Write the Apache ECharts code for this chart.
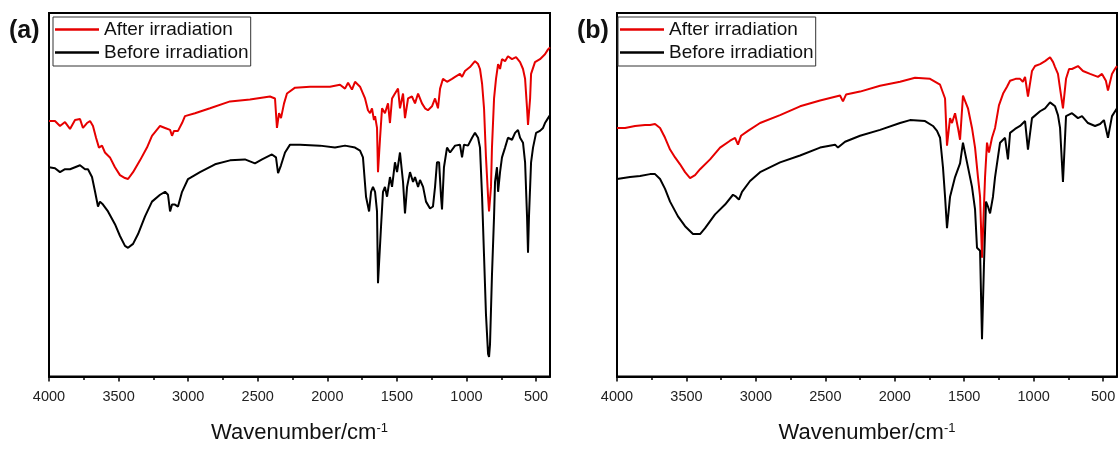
<!DOCTYPE html>
<html>
<head>
<meta charset="utf-8">
<script src="https://cdn.jsdelivr.net/npm/echarts@6/dist/echarts.min.js"></script>
<style>html,body{margin:0;padding:0;background:#fff}#c{width:1120px;height:449px}</style>
</head>
<body>
<div id="c"></div>
<script>
// ---- data (wavenumber in cm-1, transmittance in arbitrary units) ----
const seriesNames = ['After irradiation', 'Before irradiation'];
const tickValues = [500, 1000, 1500, 2000, 2500, 3000, 3500, 4000];
const minorTickValues = [750, 1250, 1750, 2250, 2750, 3250, 3750];

const aAfterWn = [4000,3957,3921,3885,3849,3813,3777,3756,3727,3705,3684,3662,3641,3619,3598,3562,3526,3490,3454,3432,3396,3346,3296,3260,3202,3166,3130,3116,3102,3073,3044,3023,2951,2843,2699,2556,2412,2376,2362,2347,2333,2311,2290,2232,2124,1981,1909,1873,1851,1823,1801,1765,1729,1708,1693,1679,1665,1657,1643,1636,1621,1607,1586,1564,1550,1535,1514,1492,1478,1456,1442,1420,1392,1370,1348,1320,1298,1277,1248,1226,1205,1190,1169,1140,1104,1082,1047,1032,1011,975,939,917,903,888,874,860,845,838,824,817,802,788,773,759,745,723,702,673,644,615,594,579,565,558,543,536,508,472,436,414,400];
const aAfterT = [260,260,255,259,252,261,262,253,258,260,255,243,233,235,228,223,213,205,202,201,208,220,233,245,255,253,251,245,250,250,258,265,268,273,280,282,285,283,253,268,263,278,288,294,295,295,297,293,299,292,300,295,283,271,268,273,261,265,253,208,243,273,268,278,258,283,288,293,273,288,263,283,285,278,288,278,273,271,275,283,273,293,303,300,303,305,308,305,311,315,321,318,313,298,273,223,183,168,193,233,283,303,318,313,323,321,326,323,325,320,313,303,273,256,283,308,320,323,328,333,335];

const aBeforeWn = [4000,3957,3921,3885,3849,3813,3777,3741,3720,3691,3669,3648,3634,3612,3576,3526,3490,3454,3432,3396,3360,3310,3260,3202,3166,3145,3130,3116,3095,3073,3044,3001,2915,2807,2699,2592,2520,2469,2398,2369,2354,2333,2304,2268,2196,2053,1945,1873,1801,1765,1744,1722,1700,1686,1672,1657,1643,1636,1614,1600,1586,1571,1550,1535,1514,1499,1478,1456,1442,1427,1406,1384,1370,1348,1334,1312,1291,1262,1241,1226,1212,1197,1183,1176,1162,1140,1118,1082,1047,1032,1018,989,960,939,917,903,888,874,860,845,838,831,817,802,795,781,773,759,745,723,702,673,651,630,615,594,579,565,558,551,536,522,500,472,450,436,414,400];
const aBeforeT = [213,212,208,211,211,213,215,211,211,203,188,173,178,175,168,155,143,133,131,135,145,163,178,185,188,185,168,175,175,173,188,201,208,216,220,221,217,221,226,223,207,215,228,236,236,235,233,235,233,230,223,183,168,188,193,188,168,95,153,188,193,183,203,193,218,208,228,198,166,193,208,198,203,193,200,193,178,171,173,193,218,218,183,170,213,233,228,235,236,223,236,235,243,248,243,233,183,123,63,23,20,33,103,163,198,213,188,208,223,233,243,241,248,251,243,238,218,163,126,163,218,233,248,250,253,258,263,266];

const bAfterWn = [4000,3942,3870,3798,3762,3726,3690,3654,3618,3582,3546,3510,3474,3438,3402,3330,3258,3186,3150,3129,3107,3057,2970,2826,2682,2538,2394,2373,2351,2250,2106,1962,1854,1746,1674,1638,1624,1602,1588,1566,1545,1530,1509,1473,1444,1422,1401,1386,1372,1350,1336,1322,1300,1278,1250,1220,1192,1170,1156,1130,1098,1078,1062,1041,1012,990,954,918,882,860,846,825,810,789,767,745,724,681,645,594,537,508,480,465,436,415,400];
const bAfterT = [253,253,255,256,256,257,253,243,231,223,216,208,202,205,211,221,233,240,243,236,245,250,258,266,275,281,286,280,287,290,296,300,304,303,297,283,235,263,258,268,253,241,286,273,253,233,203,183,121,203,238,228,243,253,276,288,295,301,300,303,303,300,305,285,311,316,318,321,325,320,315,308,293,273,303,313,313,316,311,308,305,308,301,291,308,313,316];

const bBeforeWn = [4000,3906,3834,3762,3726,3690,3654,3618,3561,3510,3453,3402,3366,3294,3222,3165,3143,3122,3100,3042,2970,2826,2682,2538,2430,2409,2358,2250,2106,1962,1890,1782,1725,1696,1674,1653,1638,1624,1602,1566,1530,1509,1480,1444,1422,1408,1386,1372,1358,1343,1329,1314,1293,1278,1242,1206,1185,1170,1134,1098,1062,1041,1012,954,918,882,846,825,810,789,767,724,681,652,609,558,522,494,465,436,400];
const bBeforeT = [201,203,204,206,206,201,191,178,163,153,145,145,151,165,175,185,183,180,188,199,208,218,225,233,236,233,239,245,251,258,261,260,255,250,243,213,183,151,183,203,217,238,218,193,170,131,128,38,113,178,173,166,183,203,238,243,221,248,252,255,260,231,263,270,273,279,275,266,253,198,265,268,263,265,258,255,257,261,243,265,273];

function pairs(wn, t) { return wn.map((w, i) => [w, t[i]]); }

const FONT = "'Liberation Sans', Arial, sans-serif";
const RED = '#e60000';
const BLACK = '#000000';

const grids = [
  { left: 49, top: 13, width: 501, height: 370 },
  { left: 617, top: 13, width: 500, height: 370 }
];

function mainX(gi) {
  return {
    type: 'value', gridIndex: gi, inverse: true, min: 400, max: 4000,
    name: '{m|Wavenumber/cm}{s|-1}', nameLocation: 'middle', nameGap: 45,
    nameTextStyle: { rich: {
      m: { fontSize: 22, fontFamily: FONT, color: '#111' },
      s: { fontSize: 13, fontFamily: FONT, color: '#111', verticalAlign: 'top', padding: [0, 0, 10, 0] }
    } },
    axisLine: { show: true, lineStyle: { color: '#000', width: 2 } },
    axisTick: { show: true, inside: false, length: 5, lineStyle: { color: '#000', width: 1.5 }, customValues: tickValues },
    axisLabel: { show: true, margin: 13, fontSize: 14.5, fontFamily: FONT, color: '#222', customValues: tickValues,
      formatter: v => String(v) },
    splitLine: { show: false }
  };
}
function minorX(gi) {
  return {
    type: 'value', gridIndex: gi, inverse: true, min: 400, max: 4000, position: 'bottom',
    axisLine: { show: false },
    axisTick: { show: true, inside: false, length: 3.5, lineStyle: { color: '#000', width: 1.5 }, customValues: minorTickValues },
    axisLabel: { show: false, customValues: minorTickValues },
    splitLine: { show: false }
  };
}
function yAx(gi) {
  return {
    type: 'value', gridIndex: gi, min: 0, max: 370,
    axisLine: { show: true, lineStyle: { color: '#000', width: 2 } },
    axisTick: { show: false }, axisLabel: { show: false }, splitLine: { show: false }
  };
}
function line(name, data, color, xi, yi) {
  return {
    type: 'line', name: name, data: data, xAxisIndex: xi, yAxisIndex: yi,
    showSymbol: false, symbol: 'none', smooth: false, animation: false,
    lineStyle: { color: color, width: 2 }, itemStyle: { color: color }
  };
}
function legend(left) {
  return {
    left: left, top: 17, orient: 'vertical', data: seriesNames,
    icon: 'rect', itemWidth: 44, itemHeight: 2.5, itemGap: 4,
    padding: [3, 2, 4, 2], borderColor: '#333', borderWidth: 1,
    textStyle: { fontSize: 19, fontFamily: FONT, color: '#111' }
  };
}

const chart = echarts.init(document.getElementById('c'), null, { renderer: 'canvas' });
chart.setOption({
  animation: false,
  backgroundColor: '#fff',
  grid: grids.map(g => Object.assign({ show: true, borderColor: '#000', borderWidth: 2, backgroundColor: 'transparent' }, g)),
  xAxis: [mainX(0), minorX(0), mainX(1), minorX(1)],
  yAxis: [yAx(0), yAx(1)],
  legend: [legend(53), legend(618)],
  graphic: [
    { type: 'text', left: 9, top: 19, style: { text: '(a)', fontSize: 25, fontWeight: 'bold', fontFamily: FONT, fill: '#111' } },
    { type: 'text', left: 577, top: 19, style: { text: '(b)', fontSize: 25, fontWeight: 'bold', fontFamily: FONT, fill: '#111' } }
  ],
  series: [
    line(seriesNames[0], pairs(aAfterWn, aAfterT), RED, 0, 0),
    line(seriesNames[1], pairs(aBeforeWn, aBeforeT), BLACK, 0, 0),
    line(seriesNames[0], pairs(bAfterWn, bAfterT), RED, 2, 1),
    line(seriesNames[1], pairs(bBeforeWn, bBeforeT), BLACK, 2, 1)
  ]
});
</script>
</body>
</html>
